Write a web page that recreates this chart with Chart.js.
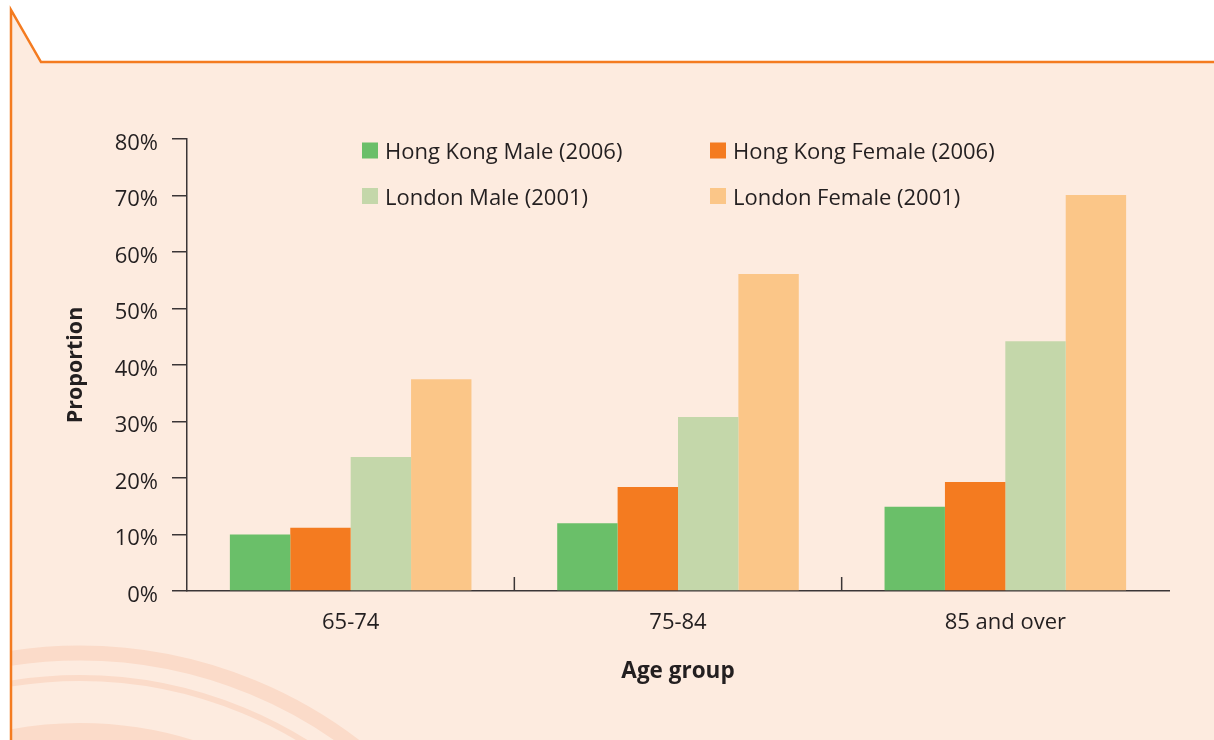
<!DOCTYPE html>
<html>
<head>
<meta charset="utf-8">
<script src="https://cdn.jsdelivr.net/npm/chart.js@4/dist/chart.umd.min.js"></script>
<style>
  html, body { margin: 0; padding: 0; background: #ffffff; }
  #wrap { width: 1214px; height: 740px; position: relative; }
</style>
</head>
<body>
<div id="wrap"><canvas id="chart" width="1214" height="740"></canvas></div>
<script>
// Age groups on the horizontal axis
const ageGroups = ['65-74', '75-84', '85 and over'];

// Proportion (%) for each series
const hongKongMale2006   = [10.0, 12.0, 14.9];
const hongKongFemale2006 = [11.2, 18.4, 19.3];
const londonMale2001     = [23.7, 30.8, 44.2];
const londonFemale2001   = [37.5, 56.1, 70.1];

// Series names and colours
const seriesLabels = ['Hong Kong Male (2006)', 'Hong Kong Female (2006)', 'London Male (2001)', 'London Female (2001)'];
const seriesColors = ['#6abf69', '#f47b20', '#c4d7aa', '#fbc688'];

// Vertical axis range and step (%)
const yMin = 0, yMax = 80, yStep = 10;

const FONT = '"Open Sans", "Noto Sans", sans-serif';
const INK = '#231f20';
const PANEL = '#fdebdf';
const ACCENT = '#f47b20';

// Panel background: peach card with a notched orange frame and faint brush rings
const panelBackground = {
  id: 'panelBackground',
  beforeDraw(chart) {
    const ctx = chart.ctx;
    const W = chart.width, H = chart.height;
    ctx.save();
    ctx.fillStyle = '#ffffff';
    ctx.fillRect(0, 0, W, H);

    ctx.beginPath();
    ctx.moveTo(11, 10);
    ctx.lineTo(41, 62);
    ctx.lineTo(W, 62);
    ctx.lineTo(W, H);
    ctx.lineTo(11, H);
    ctx.closePath();
    ctx.fillStyle = PANEL;
    ctx.fill();

    // brush rings in the lower-left corner
    ctx.save();
    ctx.clip();
    ctx.strokeStyle = '#fbdbc9';
    const cx = 80, cy = 1105;
    [[452, 15], [427, 6], [372, 20]].forEach(([r, w]) => {
      ctx.beginPath();
      ctx.lineWidth = w;
      ctx.arc(cx, cy, r, Math.PI * 1.0, Math.PI * 1.75);
      ctx.stroke();
    });
    ctx.restore();

    // frame
    ctx.beginPath();
    ctx.moveTo(11, H);
    ctx.lineTo(11, 10);
    ctx.lineTo(41, 62);
    ctx.lineTo(W, 62);
    ctx.strokeStyle = ACCENT;
    ctx.lineWidth = 2.5;
    ctx.lineJoin = 'miter';
    ctx.stroke();
    ctx.restore();
  }
};

// Percentage labels beside the vertical axis ticks
const yTickLabels = {
  id: 'yTickLabels',
  afterDraw(chart) {
    const ctx = chart.ctx;
    const ys = chart.scales.y;
    const right = chart.chartArea.left - 29;
    ctx.save();
    ctx.font = '22px ' + FONT;
    ctx.fillStyle = INK;
    ctx.textAlign = 'right';
    ctx.textBaseline = 'alphabetic';
    ys.ticks.forEach((t) => {
      const y = ys.getPixelForValue(t.value);
      ctx.fillText(t.value + '%', right, y + 10.5);
    });
    ctx.restore();
  }
};

// Two-column legend placed inside the plot area
const gridLegend = {
  id: 'gridLegend',
  afterDraw(chart) {
    const ctx = chart.ctx;
    const area = chart.chartArea;
    const colX = [area.left + 175, area.left + 523];
    const rowY = [area.top + 11.5, area.top + 57];
    ctx.save();
    ctx.font = '22px ' + FONT;
    ctx.textBaseline = 'alphabetic';
    ctx.textAlign = 'left';
    chart.data.datasets.forEach((ds, i) => {
      const x = colX[i % 2];
      const y = rowY[Math.floor(i / 2)];
      ctx.fillStyle = ds.backgroundColor;
      ctx.fillRect(x, y - 8, 16, 16);
      ctx.fillStyle = INK;
      ctx.fillText(ds.label, x + 23, y + 8.5);
    });
    ctx.restore();
  }
};

// Short upward marks between age groups on the horizontal axis
const groupDividers = {
  id: 'groupDividers',
  afterDatasetsDraw(chart) {
    const ctx = chart.ctx;
    const xs = chart.scales.x;
    const bottom = chart.chartArea.bottom;
    ctx.save();
    ctx.strokeStyle = '#3a3536';
    ctx.lineWidth = 1.5;
    for (let i = 0; i < ageGroups.length - 1; i++) {
      const x = (xs.getPixelForValue(i) + xs.getPixelForValue(i + 1)) / 2;
      ctx.beginPath();
      ctx.moveTo(x, bottom);
      ctx.lineTo(x, bottom - 14);
      ctx.stroke();
    }
    ctx.restore();
  }
};

const seriesValues = [hongKongMale2006, hongKongFemale2006, londonMale2001, londonFemale2001];

new Chart(document.getElementById('chart'), {
  type: 'bar',
  data: {
    labels: ageGroups,
    datasets: seriesValues.map((vals, i) => ({
      label: seriesLabels[i],
      data: vals,
      backgroundColor: seriesColors[i],
      borderWidth: 0,
      categoryPercentage: 0.738,
      barPercentage: 1.0
    }))
  },
  options: {
    responsive: false,
    animation: false,
    devicePixelRatio: 1,
    layout: { padding: { left: 55, top: 139, right: 45, bottom: 0 } },
    plugins: {
      legend: { display: false },
      tooltip: { enabled: false },
      title: { display: false }
    },
    scales: {
      x: {
        afterFit(scale) { scale.height = 149; },
        grid: { display: true, drawOnChartArea: false, drawTicks: false },
        border: { display: true, color: '#3a3536', width: 1.5 },
        ticks: { color: INK, font: { family: FONT, size: 22 }, padding: 19 },
        title: {
          display: true,
          text: 'Age group',
          color: INK,
          font: { family: FONT, size: 22.5, weight: 'bold' },
          padding: { top: 0, bottom: 55 }
        }
      },
      y: {
        min: yMin,
        max: yMax,
        afterFit(scale) { scale.width = 132; },
        grid: { display: true, drawOnChartArea: false, drawTicks: true, tickLength: 15, color: '#3a3536', lineWidth: 1.5 },
        border: { display: true, color: '#3a3536', width: 1.5 },
        ticks: { stepSize: yStep, display: false },
        title: {
          display: true,
          text: 'Proportion',
          color: INK,
          font: { family: FONT, size: 21.5, weight: 'bold' },
          padding: { top: 8, bottom: 0 }
        }
      }
    }
  },
  plugins: [panelBackground, groupDividers, yTickLabels, gridLegend]
});
</script>
</body>
</html>
